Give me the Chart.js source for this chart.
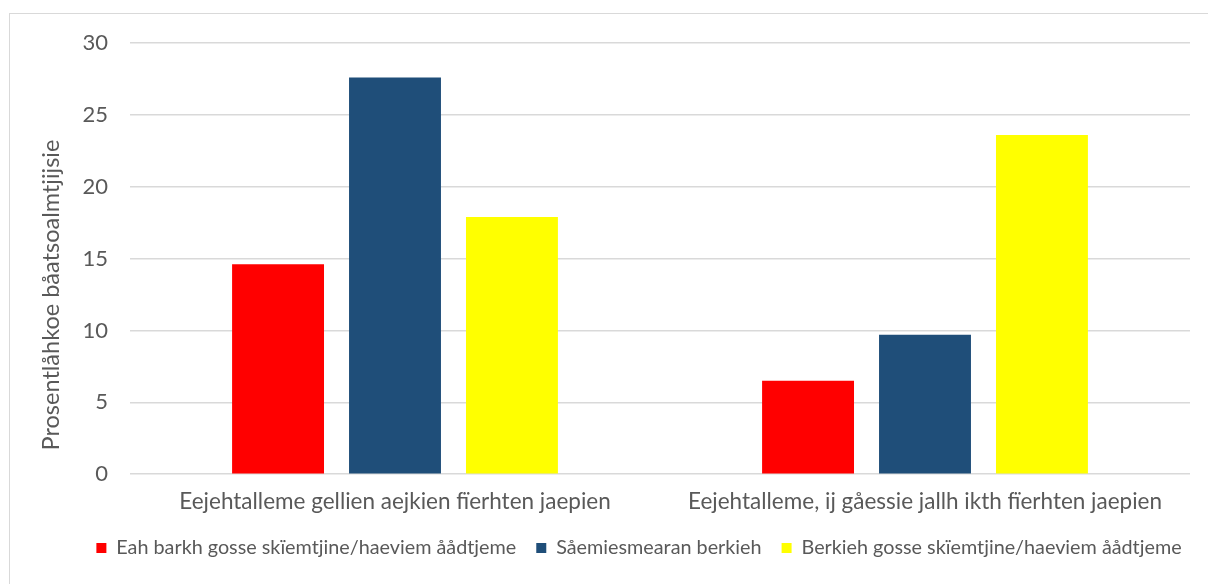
<!DOCTYPE html>
<html>
<head>
<meta charset="utf-8">
<script src="https://cdn.jsdelivr.net/npm/chart.js@4.4.1/dist/chart.umd.min.js"></script>
<style>
  html, body { margin: 0; padding: 0; background: #ffffff; overflow: hidden; }
  .frame {
    position: absolute; left: 9px; top: 13px; width: 1400px; height: 800px;
    border: 1.5px solid #d9d9d9;
  }
  .wrap { position: absolute; left: 0; top: 0; width: 1208px; height: 584px; }
</style>
</head>
<body>
<div class="frame"></div>
<div class="wrap"><canvas id="chart"></canvas></div>
<script>
// Chart values
const categories = [
    'Eejehtalleme gellien aejkien fïerhten jaepien',
    'Eejehtalleme, ij gåessie jallh ikth fïerhten jaepien'
];
const seriesNames = [
    'Eah barkh gosse skïemtjine/haeviem åådtjeme',
    'Såemiesmearan berkieh',
    'Berkieh gosse skïemtjine/haeviem åådtjeme'
];
const noWorkValues = [14.6, 6.5];
const someWorkValues = [27.6, 9.7];
const workValues = [17.9, 23.6];
const seriesColors = ['#ff0000', '#1f4e79', '#ffff00'];
const yTicks = [0, 5, 10, 15, 20, 25, 30];
const yTitle = 'Prosentlåhkoe båatsoalmtjijsie';

const fontFamily = 'Lato, "Open Sans", sans-serif';
const textColor = '#595959';

// Rotated y-axis title, placed the way the original sits (a bit below centre)
const yTitlePlugin = {
    id: 'yTitle',
    afterLayout(chart) {
        // legend in the original is centred a little right of the canvas middle
        chart.legend.left += 14;
        chart.legend.right += 14;
    },
    afterDraw(chart) {
        const ctx = chart.ctx;
        ctx.save();
        ctx.translate(51, 295);
        ctx.rotate(-Math.PI / 2);
        ctx.font = '23.5px ' + fontFamily;
        ctx.fillStyle = textColor;
        ctx.textAlign = 'center';
        ctx.textBaseline = 'middle';
        ctx.fillText(yTitle, 0, 0);
        ctx.restore();
    }
};

const ctx = document.getElementById('chart');
new Chart(ctx, {
    type: 'bar',
    data: {
        labels: categories,
        datasets: [
            { label: seriesNames[0], data: noWorkValues, backgroundColor: seriesColors[0] },
            { label: seriesNames[1], data: someWorkValues, backgroundColor: seriesColors[1] },
            { label: seriesNames[2], data: workValues, backgroundColor: seriesColors[2] }
        ]
    },
    options: {
        responsive: true,
        maintainAspectRatio: false,
        animation: false,
        categoryPercentage: 0.662,
        barPercentage: 0.786,
        layout: {
            padding: { left: 60, right: 18, top: 43, bottom: 16 }
        },
        plugins: {
            legend: {
                position: 'bottom',
                labels: {
                    color: textColor,
                    boxWidth: 10,
                    boxHeight: 10,
                    padding: 20,
                    font: { family: fontFamily, size: 19.8 }
                }
            },
            tooltip: { enabled: false }
        },
        scales: {
            x: {
                grid: { display: false, drawTicks: false },
                border: { display: false },
                afterFit: (scale) => {
                    scale.height = 44;
                },
                ticks: {
                    color: textColor,
                    padding: 14,
                    font: { family: fontFamily, size: 22.5 }
                }
            },
            y: {
                min: 0,
                max: 30,
                afterBuildTicks: (scale) => {
                    scale.ticks = yTicks.map((v) => ({ value: v }));
                },
                afterFit: (scale) => {
                    scale.width = 70;
                },
                grid: { color: '#d9d9d9', lineWidth: 1.5, drawTicks: false },
                border: { display: false },
                ticks: {
                    color: textColor,
                    padding: 22,
                    font: { family: fontFamily, size: 22 }
                }
            }
        }
    },
    plugins: [yTitlePlugin]
});
</script>
</body>
</html>
